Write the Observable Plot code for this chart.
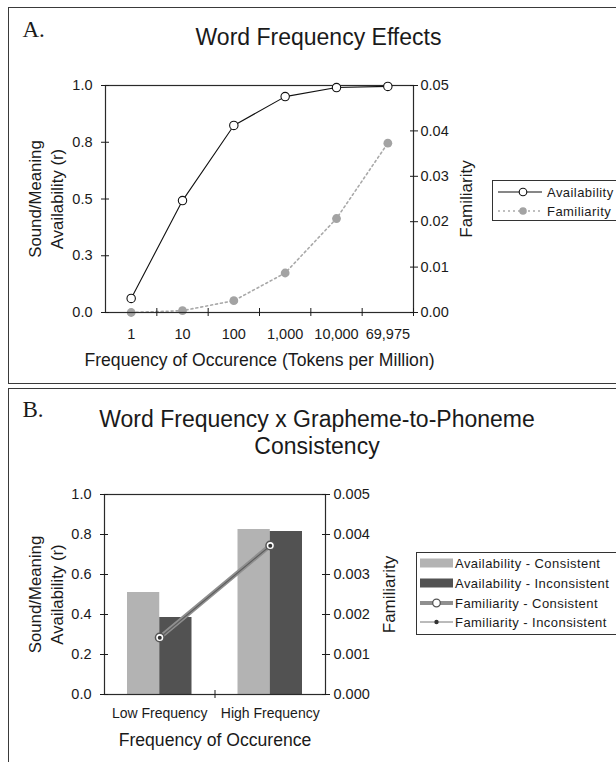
<!DOCTYPE html>
<html><head><meta charset="utf-8">
<script src="https://cdn.jsdelivr.net/npm/d3@7"></script>
<script src="https://cdn.jsdelivr.net/npm/@observablehq/plot@0.6"></script>
<style>
body{margin:0;background:#fff;}
#wrap{position:relative;width:616px;height:762px;overflow:hidden;font-family:"Liberation Sans",Arial,sans-serif;color:#1a1a1a;background:#fff;}
.panel{position:absolute;border:1.5px solid #3a3a3a;box-sizing:border-box;}
.plot{position:absolute;left:0;}
.legend{position:absolute;border:1px solid #333;background:#fff;width:220px;box-sizing:border-box;}
.row{position:absolute;left:0;height:20px;display:flex;align-items:center;font-size:13px;letter-spacing:0.45px;white-space:nowrap;}
.row svg{display:block;flex:none;}
</style></head><body>
<div id="wrap">
  <div class="panel" style="left:8px;top:7px;width:700px;height:377px"></div>
  <div class="panel" style="left:8px;top:388px;width:700px;height:500px"></div>
  <div id="plotA" class="plot" style="top:0"></div>
  <div id="plotB" class="plot" style="top:383px"></div>
  <div id="legA" class="legend" style="left:492px;top:180px;height:41px"></div>
  <div id="legB" class="legend" style="left:416px;top:552px;height:83px"></div>
</div>
<script>
// ---------- Data: panel A ----------
const freqLabels = ["1", "10", "100", "1,000", "10,000", "69,975"];
const availability = [0.062, 0.493, 0.824, 0.951, 0.991, 0.996];
const familiarity = [0.0, 0.0004, 0.0026, 0.0087, 0.0207, 0.0373];
const availTicksA = [0, 0.25, 0.5, 0.75, 1.0];
const famTicksA = [0, 0.01, 0.02, 0.03, 0.04, 0.05];
const famMaxA = 0.05;

// ---------- Data: panel B ----------
const freqGroups = ["Low Frequency", "High Frequency"];
const availConsistent = [0.51, 0.825];
const availInconsistent = [0.385, 0.815];
const famConsistent = [0.001425, 0.003725];
const famInconsistent = [0.00142, 0.00372];
const availTicksB = [0, 0.2, 0.4, 0.6, 0.8, 1.0];
const famTicksB = [0, 0.001, 0.002, 0.003, 0.004, 0.005];
const famMaxB = 0.005;

const font = "Liberation Sans, Arial, sans-serif";
const serif = "Liberation Serif, Times New Roman, serif";
const ink = "#1a1a1a";
const W = 616;
const txt = d => d;
const tickFont = 14.5;

// ---------- Panel A ----------
const mA = {h: 383, top: 85, bottom: 71, left: 105, right: 203};
const stepA = (W - mA.left - mA.right) / freqLabels.length;
const dataA = freqLabels.map((f, i) => ({f, avail: availability[i], fam: familiarity[i]}));

const plotA = Plot.plot({
  width: W, height: mA.h,
  marginTop: mA.top, marginBottom: mA.bottom, marginLeft: mA.left, marginRight: mA.right,
  style: {background: "transparent", fontFamily: font, color: ink, overflow: "visible"},
  x: {type: "band", domain: freqLabels, padding: 0, round: false},
  y: {domain: [0, 1]},
  marks: [
    Plot.line(dataA, {x: "f", y: d => d.fam / famMaxA, stroke: "#a9a9a9", strokeWidth: 1.6, strokeDasharray: "2,3"}),
    Plot.dot(dataA, {x: "f", y: d => d.fam / famMaxA, r: 4.4, fill: "#a3a3a3"}),
    Plot.frame({stroke: "#2a2a2a", strokeWidth: 1.2}),
    Plot.axisX({tickSize: 0, tickPadding: 16, fontSize: tickFont, label: null}),
    Plot.axisX({tickSize: 8, dy: -4, dx: stepA / 2, tickFormat: () => "", label: null}),
    Plot.axisY({anchor: "left", ticks: availTicksA, tickSize: 0, tickPadding: 13, tickFormat: d3.format(".1f"), fontSize: tickFont, label: null}),
    Plot.axisY({anchor: "left", ticks: availTicksA, tickSize: 8, dx: 4, tickFormat: () => "", label: null}),
    Plot.axisY({anchor: "right", ticks: famTicksA.map(v => v / famMaxA), tickSize: 0, tickPadding: 7, tickFormat: d => (d * famMaxA).toFixed(2), fontSize: tickFont, label: null}),
    Plot.axisY({anchor: "right", ticks: famTicksA.map(v => v / famMaxA), tickSize: 8, dx: -4, tickFormat: () => "", label: null}),
    Plot.line(dataA, {x: "f", y: "avail", stroke: "#111", strokeWidth: 1.1}),
    Plot.dot(dataA, {x: "f", y: "avail", r: 4.2, fill: "#fff", stroke: "#111", strokeWidth: 1.1}),
    Plot.text(["Word Frequency Effects"], {text: txt, frameAnchor: "top", lineAnchor: "middle", textAnchor: "middle", dx: 59, dy: -48, fontSize: 23, fill: ink}),
    Plot.text(["A."], {text: txt, frameAnchor: "top-left", lineAnchor: "middle", textAnchor: "start", dx: -83, dy: -55.4, fontSize: 23, fontFamily: serif, fill: ink}),
    Plot.text(["Frequency of Occurence (Tokens per Million)"], {text: txt, frameAnchor: "bottom", lineAnchor: "middle", textAnchor: "middle", dy: 47.6, fontSize: 17.6, fill: ink}),
    Plot.text(["Sound/Meaning\nAvailability (r)"], {text: txt, frameAnchor: "left", lineAnchor: "middle", textAnchor: "middle", dx: -61, rotate: -90, fontSize: 16.8, lineHeight: 1.31, fill: ink}),
    Plot.text(["Familiarity"], {text: txt, frameAnchor: "right", lineAnchor: "middle", textAnchor: "middle", dx: 53, rotate: -90, fontSize: 17, fill: ink})
  ]
});
document.getElementById("plotA").appendChild(plotA);

// ---------- Panel B ----------
const mB = {h: 379, top: 111, bottom: 68, left: 104, right: 291};
const stepB = (W - mB.left - mB.right) / freqGroups.length;
const barsC = freqGroups.map((g, i) => ({g, v: availConsistent[i]}));
const barsI = freqGroups.map((g, i) => ({g, v: availInconsistent[i]}));
const famC = freqGroups.map((g, i) => ({g, v: famConsistent[i]}));
const famI = freqGroups.map((g, i) => ({g, v: famInconsistent[i]}));

const plotB = Plot.plot({
  width: W, height: mB.h,
  marginTop: mB.top, marginBottom: mB.bottom, marginLeft: mB.left, marginRight: mB.right,
  style: {background: "transparent", fontFamily: font, color: ink, overflow: "visible"},
  x: {type: "band", domain: freqGroups, padding: 0, round: false},
  y: {domain: [0, 1]},
  marks: [
    Plot.barY(barsC, {x: "g", y: "v", fill: "#b3b3b3", insetLeft: 23, insetRight: stepB / 2}),
    Plot.barY(barsI, {x: "g", y: "v", fill: "#525252", insetLeft: stepB / 2, insetRight: 23}),
    Plot.frame({stroke: "#2a2a2a", strokeWidth: 1.2}),
    Plot.axisX({tickSize: 0, tickPadding: 14, fontSize: 14, label: null}),
    Plot.axisX({ticks: [freqGroups[1]], tickSize: 8, dy: -4, dx: -stepB / 2, tickFormat: () => "", label: null}),
    Plot.axisY({anchor: "left", ticks: availTicksB, tickSize: 0, tickPadding: 13, tickFormat: d3.format(".1f"), fontSize: tickFont, label: null}),
    Plot.axisY({anchor: "left", ticks: availTicksB, tickSize: 8, dx: 4, tickFormat: () => "", label: null}),
    Plot.axisY({anchor: "right", ticks: famTicksB.map(v => v / famMaxB), tickSize: 0, tickPadding: 8, tickFormat: d => (d * famMaxB).toFixed(3), fontSize: tickFont, label: null}),
    Plot.axisY({anchor: "right", ticks: famTicksB.map(v => v / famMaxB), tickSize: 8, dx: -4, tickFormat: () => "", label: null}),
    Plot.line(famC, {x: "g", y: d => d.v / famMaxB, stroke: "#8f8f8f", strokeWidth: 4.5}),
    Plot.line(famI, {x: "g", y: d => d.v / famMaxB, stroke: "#5e5e5e", strokeWidth: 1.2}),
    Plot.dot(famC, {x: "g", y: d => d.v / famMaxB, r: 4.3, fill: "#fff", stroke: "#555", strokeWidth: 1.5}),
    Plot.dot(famI, {x: "g", y: d => d.v / famMaxB, r: 2, fill: "#333"}),
    Plot.text(["Word Frequency x Grapheme-to-Phoneme\nConsistency"], {text: txt, frameAnchor: "top", lineAnchor: "middle", textAnchor: "middle", dx: 102, dy: -62.9, fontSize: 23, lineHeight: 1.174, fill: ink}),
    Plot.text(["B."], {text: txt, frameAnchor: "top-left", lineAnchor: "middle", textAnchor: "start", dx: -82, dy: -84.4, fontSize: 23, fontFamily: serif, fill: ink}),
    Plot.text(["Frequency of Occurence"], {text: txt, frameAnchor: "bottom", lineAnchor: "middle", textAnchor: "middle", dy: 45.6, fontSize: 17.6, fill: ink}),
    Plot.text(["Sound/Meaning\nAvailability (r)"], {text: txt, frameAnchor: "left", lineAnchor: "middle", textAnchor: "middle", dx: -60, rotate: -90, fontSize: 16.8, lineHeight: 1.31, fill: ink}),
    Plot.text(["Familiarity"], {text: txt, frameAnchor: "right", lineAnchor: "middle", textAnchor: "middle", dx: 64, rotate: -90, fontSize: 17, fill: ink})
  ]
});
document.getElementById("plotB").appendChild(plotB);

// ---------- Legends ----------
const legendA = [
  {label: "Availability", svg: '<svg width="44" height="10"><line x1="0" y1="5" x2="44" y2="5" stroke="#111" stroke-width="1.1"/><circle cx="25" cy="5" r="3.8" fill="#fff" stroke="#111" stroke-width="1.1"/></svg>'},
  {label: "Familiarity", svg: '<svg width="44" height="10"><line x1="0" y1="5" x2="44" y2="5" stroke="#aaa" stroke-width="1.5" stroke-dasharray="2,3"/><circle cx="25" cy="5" r="3.8" fill="#a3a3a3"/></svg>'}
];
const legendB = [
  {label: "Availability - Consistent", svg: '<svg width="33" height="10"><rect x="0" y="0.5" width="33" height="9" fill="#b3b3b3"/></svg>'},
  {label: "Availability - Inconsistent", svg: '<svg width="33" height="10"><rect x="0" y="0.5" width="33" height="9" fill="#525252"/></svg>'},
  {label: "Familiarity - Consistent", svg: '<svg width="33" height="10"><line x1="0" y1="5" x2="33" y2="5" stroke="#8f8f8f" stroke-width="4"/><circle cx="16.5" cy="5" r="3.8" fill="#fff" stroke="#555" stroke-width="1.3"/></svg>'},
  {label: "Familiarity - Inconsistent", svg: '<svg width="33" height="10"><line x1="0" y1="5" x2="33" y2="5" stroke="#777" stroke-width="1"/><circle cx="16.5" cy="5" r="2.2" fill="#333"/></svg>'}
];
function buildLegend(id, items, tops, padLeft, gap) {
  const box = document.getElementById(id);
  items.forEach((it, i) => {
    const row = document.createElement("div");
    row.className = "row";
    row.style.top = tops[i] + "px";
    row.style.paddingLeft = padLeft + "px";
    row.innerHTML = it.svg + '<span style="margin-left:' + gap + 'px">' + it.label + '</span>';
    box.appendChild(row);
  });
}
buildLegend("legA", legendA, [1, 20], 5, 5);
buildLegend("legB", legendB, [0, 20, 40, 59], 3, 2);
</script>
</body></html>
